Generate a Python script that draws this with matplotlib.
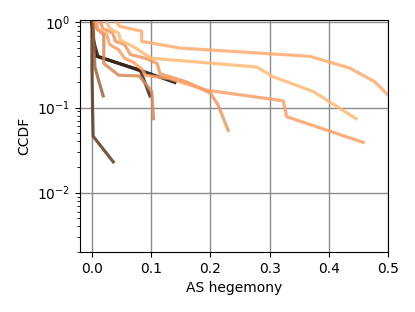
import matplotlib
matplotlib.use('Agg')
import matplotlib.pyplot as plt
import numpy as np

# one CCDF curve per group: (hegemony values, ccdf values)
curves = {
    'g': ([0.0, 0.0, 0.001, 0.002, 0.036], [1.0, 0.3, 0.1, 0.046, 0.023]),
    'h': ([0.0, 0.004, 0.008, 0.078, 0.14], [1.0, 0.5, 0.40, 0.28, 0.197]),
    'i': ([0.0, 0.003, 0.01, 0.082, 0.098], [1.0, 0.6, 0.4, 0.27, 0.137]),
    'f': ([0.002, 0.003, 0.005, 0.012, 0.019], [1.0, 0.6, 0.30, 0.2, 0.137]),
    'e': ([0.005, 0.008, 0.02, 0.02, 0.045, 0.08, 0.101, 0.104],
          [1.0, 0.85, 0.72, 0.33, 0.24, 0.235, 0.154, 0.074]),
    'd': ([0.015, 0.018, 0.035, 0.04, 0.055, 0.065, 0.09, 0.11, 0.115, 0.16, 0.2, 0.213, 0.23],
          [1.0, 0.85, 0.75, 0.6, 0.55, 0.42, 0.38, 0.33, 0.25, 0.20, 0.148, 0.107, 0.054]),
    'c': ([0.008, 0.01, 0.025, 0.03, 0.045, 0.055, 0.07, 0.085, 0.09, 0.13, 0.194, 0.323, 0.329, 0.458],
          [1.0, 0.82, 0.72, 0.55, 0.48, 0.38, 0.34, 0.28, 0.24, 0.22, 0.16, 0.12, 0.078, 0.039]),
    'a': ([0.042, 0.047, 0.084, 0.084, 0.149, 0.368, 0.436, 0.478, 0.5],
          [1.0, 0.9, 0.79, 0.60, 0.50, 0.40, 0.29, 0.20, 0.14]),
    'b': ([0.025, 0.03, 0.045, 0.048, 0.07, 0.10, 0.278, 0.306, 0.374, 0.446],
          [1.0, 0.85, 0.75, 0.62, 0.52, 0.38, 0.30, 0.23, 0.154, 0.074]),
}
shade = {'g': 0.3, 'h': 0.08, 'i': 0.18, 'f': 0.5, 'e': 0.68,
         'd': 0.76, 'c': 0.8, 'a': 0.86, 'b': 0.93}

fig = plt.figure(figsize=(4.15, 3.12), dpi=100)
ax = fig.add_axes([0.193, 0.192, 0.742, 0.744])

cmap = plt.get_cmap('copper')
for k, (xs, ys) in curves.items():
    ax.plot(xs, ys, color=cmap(shade[k]), lw=2.3, alpha=0.85)

ax.set_yscale('log')
ax.set_xlim(-0.02, 0.5)
ax.set_ylim(0.002, 1.07)
ax.set_xticks([0.0, 0.1, 0.2, 0.3, 0.4, 0.5])
ax.grid(True, which='major', color='#8c8c8c', lw=1)
ax.set_xlabel('AS hegemony')
ax.set_ylabel('CCDF')

fig.savefig('out.png')
